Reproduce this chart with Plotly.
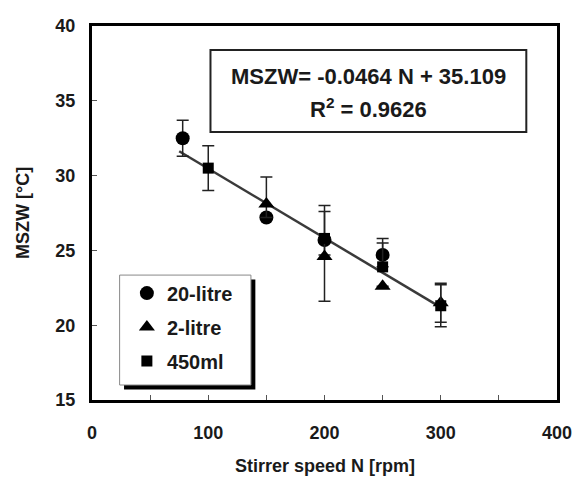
import plotly.graph_objects as go

# Metastable zone width vs stirrer speed for three vessel scales
n_20l = [78, 150, 200, 250]
mszw_20l = [32.5, 27.2, 25.7, 24.7]
err_20l_up = [1.2, 0.0, 2.3, 1.1]
err_20l_dn = [1.2, 0.0, 1.0, 0.0]

n_2l = [150, 200, 250, 300]
mszw_2l = [28.1, 24.6, 22.6, 21.5]
err_2l_up = [1.8, 3.0, 0.0, 1.3]
err_2l_dn = [0.9, 3.0, 0.0, 1.3]

n_450 = [100, 200, 250, 300]
mszw_450 = [30.5, 25.8, 23.9, 21.3]
err_450_up = [1.5, 0.0, 1.6, 1.4]
err_450_dn = [1.5, 0.0, 0.0, 1.4]

slope = -0.0464
intercept = 35.109
r_squared = 0.9626
fit_range = [75, 300]

x_ticks = [0, 100, 200, 300, 400]
y_ticks = [15, 20, 25, 30, 35, 40]

FONT = "Liberation Sans, Arial, sans-serif"
INK = "#1a1a1a"

fig = go.Figure()

fig.add_trace(go.Scatter(
    x=fit_range, y=[slope * n + intercept for n in fit_range],
    mode="lines", line=dict(color="#3a3a3a", width=2.5),
    showlegend=False, hoverinfo="skip"))


def series(name, xs, ys, up, dn, symbol, size):
    return go.Scatter(
        x=xs, y=ys, name=name, mode="markers",
        marker=dict(symbol=symbol, size=size, color="black"),
        error_y=dict(type="data", array=up, arrayminus=dn, symmetric=False,
                     color="#222", thickness=1.5, width=6),
        legendgroup=name)


fig.add_trace(series("20-litre", n_20l, mszw_20l, err_20l_up, err_20l_dn, "circle", 14))
fig.add_trace(series("2-litre", n_2l, mszw_2l, err_2l_up, err_2l_dn, "triangle-up", 14))
fig.add_trace(series("450ml", n_450, mszw_450, err_450_up, err_450_dn, "square", 11))

axis_common = dict(
    showline=True, linecolor="black", linewidth=3, mirror=True,
    showgrid=False, zeroline=False, ticks="inside", ticklen=5,
    tickcolor="#555", tickwidth=1,
    tickfont=dict(family=FONT, size=18, color=INK, weight="bold"),
)

fig.update_xaxes(range=[0, 400], tickvals=x_ticks, ticklabelstandoff=14,
                 minor=dict(dtick=50, ticks="inside", ticklen=5, tickcolor="#555"),
                 **axis_common)
fig.update_yaxes(range=[15, 40], tickvals=y_ticks, ticklabelstandoff=10,
                 **axis_common)

# equation box
fig.add_shape(type="rect", xref="paper", yref="paper",
              x0=0.2548, x1=0.934, y0=0.7166, y1=0.9358,
              line=dict(color="#222", width=2), fillcolor="white", layer="above")
fig.add_annotation(xref="paper", yref="paper", x=0.5945, y=0.866,
                   xanchor="center", yanchor="middle",
                   text=f"MSZW= {slope} N + {intercept}", showarrow=False,
                   font=dict(family=FONT, size=22, color=INK, weight="bold"))
fig.add_annotation(xref="paper", yref="paper", x=0.5945, y=0.781,
                   xanchor="center", yanchor="middle",
                   text=f"R<sup>2</sup> = {r_squared}", showarrow=False,
                   font=dict(family=FONT, size=22, color=INK, weight="bold"))

# legend frame with drop shadow
lg_x0, lg_x1, lg_y0, lg_y1 = 0.0594, 0.3418, 0.0401, 0.334
fig.add_shape(type="rect", xref="paper", yref="paper",
              x0=lg_x0 + 0.0095, x1=lg_x1 + 0.0095,
              y0=lg_y0 - 0.012, y1=lg_y1 - 0.012,
              line=dict(width=0), fillcolor="black", layer="above")
fig.add_shape(type="rect", xref="paper", yref="paper",
              x0=lg_x0, x1=lg_x1, y0=lg_y0, y1=lg_y1,
              line=dict(color="#888", width=1), fillcolor="white", layer="above")

# axis titles
fig.add_annotation(xref="paper", yref="paper", x=0.5, y=-0.176,
                   xanchor="center", yanchor="middle",
                   text="Stirrer speed N [rpm]", showarrow=False,
                   font=dict(family=FONT, size=18, color=INK, weight="bold"))
fig.add_annotation(xref="paper", yref="paper", x=-0.1486, y=0.5,
                   xanchor="center", yanchor="middle",
                   text="MSZW [°C]", textangle=-90, showarrow=False,
                   font=dict(family=FONT, size=18, color=INK, weight="bold"))

fig.update_layout(
    width=584, height=484,
    margin=dict(l=92, r=21, t=26, b=84),
    paper_bgcolor="white", plot_bgcolor="white",
    legend=dict(x=0.075, y=0.338, xanchor="left", yanchor="top",
                bgcolor="rgba(0,0,0,0)", borderwidth=0,
                font=dict(family=FONT, size=20, color=INK, weight="bold"),
                tracegroupgap=5, itemwidth=30),
)

fig.write_html("out.html")
